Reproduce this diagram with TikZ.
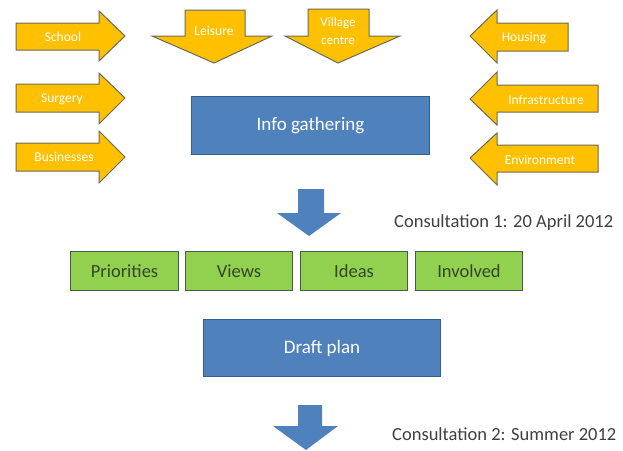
\documentclass[tikz,border=0pt]{standalone}
\usepackage{fontspec}
\setmainfont{Carlito}
\definecolor{orng}{HTML}{FFC000}
\definecolor{orngedge}{HTML}{6B6A5A}
\definecolor{bluefill}{HTML}{4F81BD}
\definecolor{blueedge}{HTML}{385D8A}
\definecolor{greenfill}{HTML}{92D050}
\definecolor{greenedge}{HTML}{4A5A4A}
\definecolor{greentxt}{HTML}{34452A}
\definecolor{txtgray}{HTML}{404040}
\tikzset{
  orarrow/.style={fill=orng, draw=orngedge, line width=1pt, line join=miter},
  orlabel/.style={text=white, font=\fontsize{13.5}{17}\selectfont, inner sep=0pt, align=center},
  bluebox/.style={fill=bluefill, draw=blueedge, line width=1pt},
  bluearrow/.style={fill=bluefill, draw=none},
  greenbox/.style={fill=greenfill, draw=greenedge, line width=1pt},
  greenlabel/.style={text=greentxt, font=\fontsize{18.5}{22}\selectfont, inner sep=0pt},
  bluelabel/.style={text=white, font=\fontsize{19}{22}\selectfont, inner sep=0pt},
  note/.style={text=txtgray, font=\fontsize{18.5}{22}\selectfont, inner sep=0pt, anchor=base west}
}
\begin{document}
\begin{tikzpicture}[x=1pt,y=-1pt]
\useasboundingbox (0,0) rectangle (623,450);
% left arrows
\draw[orarrow] (16,23) -- (99,23) -- (99,11) -- (125,36) -- (99,61) -- (99,50) -- (16,50) -- cycle;
\draw[orarrow] (16,84) -- (99,84) -- (99,73) -- (125,98) -- (99,124) -- (99,112) -- (16,112) -- cycle;
\draw[orarrow] (16,143) -- (99,143) -- (99,131) -- (125,157) -- (99,183) -- (99,171) -- (16,171) -- cycle;
\node[orlabel] (school) at (63,37) {School};
\node[orlabel] (surgery) at (62,99) {Surgery};
\node[orlabel] (business) at (64,157) {Businesses};
% right arrows
\draw[orarrow] (568,23) -- (497,23) -- (497,10) -- (470,36) -- (497,63) -- (497,51) -- (568,51) -- cycle;
\draw[orarrow] (598,85) -- (497,85) -- (497,72) -- (470,99) -- (497,125) -- (497,112) -- (598,112) -- cycle;
\draw[orarrow] (598,145) -- (497,145) -- (497,133) -- (470,158) -- (497,185) -- (497,172) -- (598,172) -- cycle;
\node[orlabel] (housing) at (524,38) {Housing};
\node[orlabel] (infra) at (546,100) {Infrastructure};
\node[orlabel] (env) at (540,160) {Environment};
% down arrows
\draw[orarrow] (185,10) -- (245,10) -- (245,36) -- (272,36) -- (214,63) -- (152,36) -- (185,36) -- cycle;
\draw[orarrow] (308,9) -- (369,9) -- (369,36) -- (400,36) -- (338,63) -- (285,36) -- (308,36) -- cycle;
\node[orlabel] (leisure) at (214,31) {Leisure};
\node[orlabel, font=\fontsize{13}{18}\selectfont] (village) at (338,31) {Village\\centre};
% info gathering
\node[bluebox, minimum width=238pt, minimum height=58pt, anchor=north west] (info) at (191,96) {};
\node[bluelabel] (infot) at (info.center) {Info gathering};
% blue arrow 1
\fill[bluearrow] (298,189) -- (324,189) -- (324,213) -- (341,213) -- (309,236) -- (277,213) -- (298,213) -- cycle;
\node[note] (c1) at (394,227) {Consultation 1: 20 April 2012};
% green boxes
\node[greenbox, minimum width=108pt, minimum height=39pt, anchor=north west] (prio) at (70,251) {};
\node[greenbox, minimum width=107pt, minimum height=39pt, anchor=north west] (views) at (185,251) {};
\node[greenbox, minimum width=107pt, minimum height=39pt, anchor=north west] (ideas) at (300,251) {};
\node[greenbox, minimum width=107pt, minimum height=39pt, anchor=north west] (inv) at (415,251) {};
\node[greenlabel] at (prio.center) {Priorities};
\node[greenlabel] at (views.center) {Views};
\node[greenlabel] at (ideas.center) {Ideas};
\node[greenlabel] at (inv.center) {Involved};
% draft plan
\node[bluebox, minimum width=237pt, minimum height=57pt, anchor=north west] (draft) at (203,319) {};
\node[bluelabel] (draftt) at (draft.center) {Draft plan};
% blue arrow 2
\fill[bluearrow] (298,405) -- (322,405) -- (322,426) -- (338,426) -- (306,450) -- (273,426) -- (298,426) -- cycle;
\node[note] (c2) at (392,440) {Consultation 2: Summer 2012};
\end{tikzpicture}
\end{document}
